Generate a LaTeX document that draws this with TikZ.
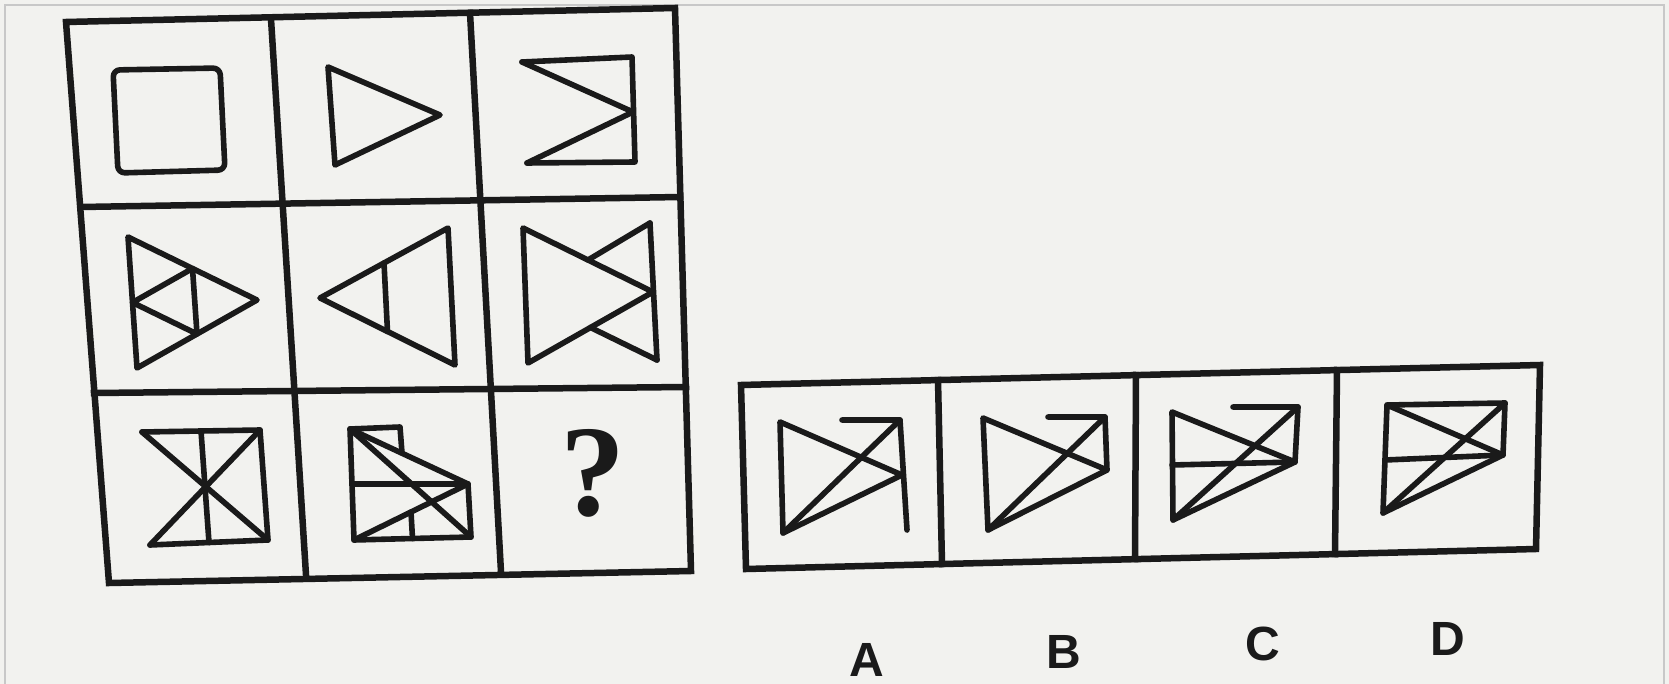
\documentclass[tikz,border=0pt]{standalone}
\usepackage{fontspec}
\setmainfont{Liberation Serif}
\newfontfamily\labfont{Liberation Sans}
\usetikzlibrary{calc}
\definecolor{ink}{HTML}{1A1A1A}
\definecolor{paper}{HTML}{F2F2EF}
\definecolor{edgegray}{HTML}{C8C8C8}
\begin{document}
\begin{tikzpicture}[x=1pt,y=-1pt,
  gridline/.style={draw=ink, line width=6.5pt, line join=miter, line cap=rect},
  fig/.style={draw=ink, line width=5.6pt, line join=round, line cap=round},
  qmark/.style={text=ink, font=\fontsize{130}{130}\selectfont\bfseries, inner sep=0pt},
  optlabel/.style={text=ink, font=\labfont\fontsize{48}{48}\selectfont\bfseries, inner sep=0pt}]
\useasboundingbox (0,0) rectangle (1669,684);
\fill[paper] (0,0) rectangle (1669,684);
\draw[edgegray, line width=1.5pt] (5,684) -- (5,5) -- (1664,5) -- (1664,684);

% ---------- 3x3 grid ----------
\coordinate (g00) at (66,22);  \coordinate (g10) at (271,19);  \coordinate (g20) at (470,13);  \coordinate (g30) at (675,8);
\coordinate (g01) at (81,207); \coordinate (g11) at (283,204); \coordinate (g21) at (480,200); \coordinate (g31) at (680,197);
\coordinate (g02) at (94,393); \coordinate (g12) at (294,391); \coordinate (g22) at (491,389); \coordinate (g32) at (686,387);
\coordinate (g03) at (109,583);\coordinate (g13) at (306,575); \coordinate (g23) at (501,572); \coordinate (g33) at (691,571);
\draw[gridline] (g00) -- (g30) -- (g33) -- (g03) -- cycle;
\draw[gridline] (g10) -- (g13);
\draw[gridline] (g20) -- (g23);
\draw[gridline] (g01) -- (g31);
\draw[gridline] (g02) -- (g32);

% row 1, cell 1: square
\draw[fig, rounded corners=7pt] (113,70) -- (220,68) -- (225,170) -- (118,173) -- cycle;
% row 1, cell 2: triangle
\draw[fig] (328,67) -- (440,115) -- (335,165) -- cycle;
% row 1, cell 3
\coordinate (a1) at (522,62); \coordinate (a2) at (632,57); \coordinate (a3) at (633,112);
\coordinate (a4) at (635,162); \coordinate (a5) at (527,163);
\draw[fig] (a1) -- (a2) -- (a4) -- (a5);
\draw[fig] (a1) -- (a3) -- (a5);

% row 2, cell 1
\coordinate (b1) at (128,237); \coordinate (b2) at (257,300); \coordinate (b3) at (137,368);
\draw[fig] (b1) -- (b2) -- (b3) -- cycle;
\draw[fig] ($(b1)!.5!(b3)$) -- ($(b1)!.5!(b2)$) -- ($(b2)!.5!(b3)$) -- cycle;
% row 2, cell 2
\coordinate (c1) at (320,298); \coordinate (c2) at (448,228); \coordinate (c3) at (455,365);
\draw[fig] (c1) -- (c2) -- (c3) -- cycle;
\draw[fig] ($(c1)!.5!(c2)$) -- ($(c1)!.5!(c3)$);
% row 2, cell 3
\coordinate (d1) at (523,228); \coordinate (d2) at (653,292); \coordinate (d3) at (528,363);
\coordinate (d4) at (650,223); \coordinate (d5) at (657,360);
\draw[fig] (d1) -- (d2) -- (d3) -- cycle;
\draw[fig] (d4) -- (d5);
\draw[fig] (d4) -- ($(d1)!.5!(d2)$);
\draw[fig] (d5) -- ($(d3)!.5!(d2)$);

% row 3, cell 1
\coordinate (e1) at (142,432); \coordinate (e2) at (260,430); \coordinate (e3) at (268,540); \coordinate (e4) at (150,545);
\draw[fig] (e1) -- (e2) -- (e3) -- (e4);
\draw[fig] (e1) -- (e3);
\draw[fig] (e2) -- (e4);
\draw[fig] ($(e1)!.5!(e2)$) -- ($(e4)!.5!(e3)$);
% row 3, cell 2
\coordinate (f1) at (350,429); \coordinate (f2) at (400,427); \coordinate (f3) at (402,453);
\coordinate (f4) at (468,484); \coordinate (f5) at (471,537); \coordinate (f6) at (354,540);
\coordinate (f7) at (352,484);
\draw[fig] (f1) -- (f2) -- (f3);
\draw[fig] (f1) -- (f4) -- (f5) -- (f6) -- cycle;
\draw[fig] (f1) -- (f5);
\draw[fig] (f7) -- (f4);
\draw[fig] (f6) -- (f4);
\draw[fig] ($(f6)!.5!(f4)$) -- ($(f6)!.5!(f5)$);
% row 3, cell 3
\node[qmark] (qm) at (593,473) {?};

% ---------- options ----------
\coordinate (o00) at (741,385); \coordinate (o10) at (938,380); \coordinate (o20) at (1136,375); \coordinate (o30) at (1337,370); \coordinate (o40) at (1540,365);
\coordinate (o01) at (746,569); \coordinate (o11) at (942,564); \coordinate (o21) at (1135,559); \coordinate (o31) at (1335,554); \coordinate (o41) at (1536,549);
\draw[gridline] (o00) -- (o40) -- (o41) -- (o01) -- cycle;
\draw[gridline] (o10) -- (o11);
\draw[gridline] (o20) -- (o21);
\draw[gridline] (o30) -- (o31);

% option A
\coordinate (pa1) at (780,422); \coordinate (pa2) at (783,533); \coordinate (pa3) at (902,475);
\coordinate (pa4) at (900,420); \coordinate (pa5) at (842,420); \coordinate (pa6) at (907,530);
\draw[fig] (pa1) -- (pa3) -- (pa2) -- cycle;
\draw[fig] (pa5) -- (pa4) -- (pa6);
\draw[fig] (pa2) -- (pa4);
% option B
\coordinate (pb1) at (983,418); \coordinate (pb2) at (988,530); \coordinate (pb3) at (1107,470);
\coordinate (pb4) at (1105,417); \coordinate (pb5) at (1048,417);
\draw[fig] (pb1) -- (pb3) -- (pb2) -- cycle;
\draw[fig] (pb5) -- (pb4) -- (pb3);
\draw[fig] (pb2) -- (pb4);
% option C
\coordinate (pc1) at (1172,412); \coordinate (pc2) at (1173,520); \coordinate (pc3) at (1295,462);
\coordinate (pc4) at (1298,407); \coordinate (pc5) at (1233,407); \coordinate (pc6) at (1172,465);
\draw[fig] (pc1) -- (pc3) -- (pc2) -- cycle;
\draw[fig] (pc5) -- (pc4) -- (pc3);
\draw[fig] (pc2) -- (pc4);
\draw[fig] (pc6) -- (pc3);
% option D
\coordinate (pd1) at (1387,405); \coordinate (pd2) at (1383,513); \coordinate (pd3) at (1503,455);
\coordinate (pd4) at (1505,403); \coordinate (pd6) at (1385,460);
\draw[fig] (pd1) -- (pd3) -- (pd2) -- cycle;
\draw[fig] (pd1) -- (pd4) -- (pd3);
\draw[fig] (pd2) -- (pd4);
\draw[fig] (pd6) -- (pd3);

% labels
\node[optlabel] (labA) at (867,660) {A};
\node[optlabel] (labB) at (1064,652) {B};
\node[optlabel] (labC) at (1263,644) {C};
\node[optlabel] (labD) at (1448,639) {D};
\end{tikzpicture}
\end{document}
